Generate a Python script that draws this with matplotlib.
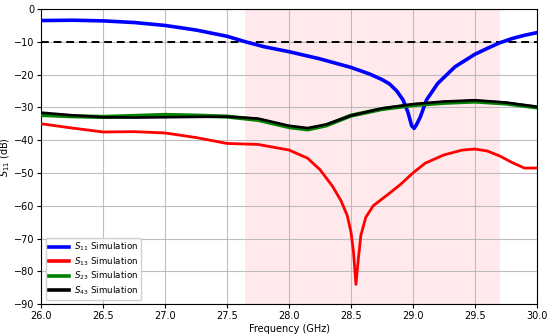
import matplotlib
matplotlib.use("Agg")
import matplotlib.pyplot as plt

# S11
f11 = [26.0, 26.25, 26.5, 26.75, 27.0, 27.25, 27.5, 27.65, 27.8, 28.0, 28.25, 28.5, 28.65, 28.75,
       28.81, 28.87, 28.92, 28.96, 28.99, 29.01, 29.03, 29.06, 29.11, 29.2, 29.34, 29.5, 29.6,
       29.7, 29.8, 29.9, 30.0]
s11 = [-3.5, -3.4, -3.6, -4.1, -5.0, -6.4, -8.3, -10.0, -11.5, -13.0, -15.2, -17.8, -19.8, -21.5,
       -22.8, -25.0, -27.7, -31.5, -35.6, -36.4, -35.2, -32.9, -27.7, -22.7, -17.6, -13.8, -12.0,
       -10.3, -9.0, -8.0, -7.2]

# S13
f13 = [26.0, 26.25, 26.5, 26.75, 27.0, 27.25, 27.5, 27.75, 28.0, 28.15, 28.25, 28.35, 28.42, 28.47,
       28.5, 28.52, 28.54, 28.56, 28.58, 28.62, 28.68, 28.8, 28.9, 29.0, 29.1, 29.25, 29.4, 29.5,
       29.6, 29.7, 29.8, 29.9, 30.0]
s13 = [-35.0, -36.3, -37.5, -37.4, -37.8, -39.2, -41.0, -41.3, -43.0, -45.5, -49.0, -54.0, -58.5, -63.0,
       -68.0, -74.0, -84.0, -76.0, -69.0, -63.5, -60.0, -56.5, -53.5, -50.0, -47.0, -44.5, -43.0, -42.7,
       -43.3, -44.8, -46.8, -48.5, -48.5]

# S23 / S43
f23 = [26.0, 26.25, 26.5, 26.75, 27.0, 27.25, 27.5, 27.75, 28.0, 28.15, 28.3, 28.5, 28.75,
       29.0, 29.25, 29.5, 29.75, 30.0]
s23 = [-32.3, -32.7, -32.9, -32.6, -32.3, -32.5, -32.8, -33.8, -36.0, -36.7, -35.5, -32.5, -30.5,
       -29.3, -28.6, -28.2, -28.8, -30.0]
s43 = [-31.6, -32.4, -33.0, -33.1, -33.0, -32.9, -32.8, -33.4, -35.6, -36.3, -35.2, -32.5, -30.3,
       -29.0, -28.2, -27.8, -28.5, -29.8]

band = [27.645, 29.70]
threshold = -10

fig = plt.figure(figsize=(5.5, 3.36), dpi=100)
ax = fig.add_axes([0.075, 0.095, 0.901, 0.878])

ax.axvspan(band[0], band[1], color="pink", alpha=0.35, lw=0, zorder=0)
ax.axhline(threshold, color="black", ls="--", lw=1.4, dashes=(4, 2.5), zorder=3)

ax.plot(f11, s11, color="blue", lw=2.6, label="$S_{11}$ Simulation", zorder=4)
ax.plot(f13, s13, color="red", lw=2.0, label="$S_{13}$ Simulation", zorder=4)
ax.plot(f23, s23, color="green", lw=3.0, label="$S_{23}$ Simulation", zorder=4)
ax.plot(f23, s43, color="black", lw=1.9, label="$S_{43}$ Simulation", zorder=5)

ax.set_xlim(26, 30)
ax.set_ylim(-90, 0)
ax.set_xticks([26.0, 26.5, 27.0, 27.5, 28.0, 28.5, 29.0, 29.5, 30.0])
ax.set_yticks(range(-90, 1, 10))
ax.tick_params(labelsize=7, length=3, pad=2)
ax.grid(True, color="#b0b0b0", lw=0.8, alpha=0.8, zorder=1)
ax.set_axisbelow(True)
ax.set_xlabel("Frequency (GHz)", fontsize=7, labelpad=2)
ax.set_ylabel("$S_{11}$ (dB)", fontsize=7, labelpad=1)

leg = ax.legend(loc="lower left", fontsize=6.3, handlelength=2.3, borderpad=0.35,
                labelspacing=0.22, handletextpad=0.6, framealpha=0.9)
for h in leg.get_lines():
    h.set_linewidth(2.6)

fig.savefig("out.png", dpi=100)
